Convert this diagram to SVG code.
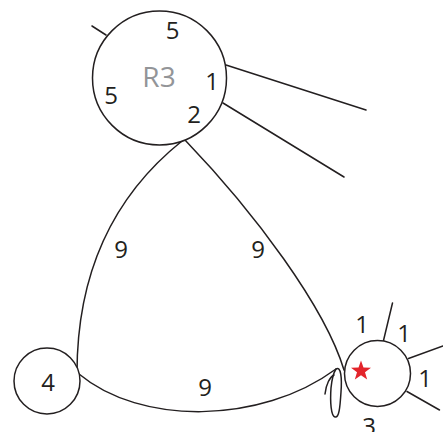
<svg xmlns="http://www.w3.org/2000/svg" width="443" height="432" viewBox="0 0 443 432">
<style>
.n{fill:#fff;stroke:#231f20;stroke-width:1.5}
.e{fill:none;stroke:#231f20;stroke-width:1.5;stroke-linecap:round}
.t{font-family:"Open Sans","Noto Sans",sans-serif;font-size:24px;fill:#231f20;text-anchor:middle}
.g{font-family:"Open Sans","Noto Sans",sans-serif;font-size:28px;fill:#939598;text-anchor:middle}
</style>
<rect width="443" height="432" fill="#fff"/>
<g id="connectors">
<path class="e" d="M182,141 C112,197 77,273 77,373"/>
<path class="e" d="M185,140 C255,213 325,307 344,370"/>
<path class="e" d="M79,374 C140,425 260,425 336,369"/>
<path class="e" d="M336,369 C341,366 342,378 341,392 C340,408 339,418 335,417 C331,416 330,402 331,388 C332,378 334,372 336,369"/>
<path class="e" d="M325,394 C326,384 330,377 334,375"/>
<line class="e" x1="92" y1="26" x2="106" y2="35"/>
<line class="e" x1="226" y1="65" x2="366" y2="110"/>
<line class="e" x1="223" y1="103" x2="344" y2="177"/>
<line class="e" x1="383.5" y1="340.5" x2="392.5" y2="303"/>
<line class="e" x1="408.5" y1="358.5" x2="443" y2="346"/>
<line class="e" x1="407" y1="391.5" x2="439.5" y2="410"/>
</g>
<g id="R3">
<circle class="n" cx="159.5" cy="78" r="67" fill="none"/>
<text class="g" x="159" y="87">R3</text>
<text class="t" x="172.5" y="39">5</text>
<text class="t" x="111" y="104">5</text>
<text class="t" x="212" y="90">1</text>
<text class="t" x="194" y="123">2</text>
</g>
<g id="node4">
<circle class="n" cx="47" cy="381" r="33" fill="none"/>
<text class="t" x="48" y="391">4</text>
</g>
<g id="nodeStar">
<circle class="n" cx="377.5" cy="373.5" r="33" fill="none"/>
<polygon fill="#e3242b" points="361,360.5 363.47,367.6 370.99,367.76 364.99,372.3 367.17,379.49 361,375.2 354.83,379.49 357.01,372.3 351.01,367.76 358.53,367.6"/>
<text class="t" x="362" y="333">1</text>
<text class="t" x="404" y="342">1</text>
<text class="t" x="425" y="387">1</text>
<text class="t" x="369" y="435">3</text>
</g>
<g id="labels">
<text class="t" x="121" y="258">9</text>
<text class="t" x="258" y="258">9</text>
<text class="t" x="205" y="396">9</text>
</g>
</svg>
